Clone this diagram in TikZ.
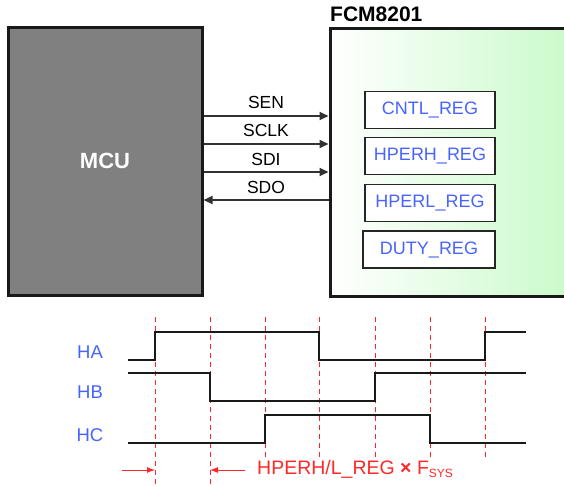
\documentclass[tikz,border=0pt]{standalone}
\usepackage{fontspec}
\setmainfont{Liberation Sans}
\usetikzlibrary{arrows.meta}
\definecolor{regblue}{RGB}{72,100,255}
\definecolor{sigred}{RGB}{255,40,40}
\definecolor{fcmgreen}{RGB}{200,250,200}
\definecolor{mcugray}{RGB}{128,128,128}
\definecolor{wire}{RGB}{50,50,50}
\tikzset{
  regbox/.style={draw=black!85,line width=1.4pt,fill=white,minimum width=130pt,minimum height=37pt,inner sep=0pt,text=regblue,font=\fontsize{18}{18}\selectfont},
  bus/.style={draw=wire,line width=1.8pt,-{Triangle[length=9pt,width=8pt]}},
  buslabel/.style={font=\fontsize{17.5}{17.5}\selectfont,text=black},
  sig/.style={line width=2.4pt,black!90},
  guide/.style={sigred,line width=1pt,dash pattern=on 5pt off 4pt},
  siglabel/.style={text=regblue,font=\fontsize{18.5}{18.5}\selectfont},
  dim/.style={sigred,line width=1pt,-{Latex[length=8pt,width=6pt]}}
}
\begin{document}
\begin{tikzpicture}[x=1pt,y=-1pt]
\clip (0,0) rectangle (564,485);
\fill[white] (0,0) rectangle (564,485);
% MCU
\node[draw=black!90,line width=3pt,fill=mcugray,minimum width=194pt,minimum height=268pt,inner sep=0pt,
      text=white,font=\bfseries\fontsize{22}{22}\selectfont] (MCU) at (105,161) {MCU};
% FCM8201
\node[draw=black!90,line width=3pt,left color=white,right color=fcmgreen,minimum width=250pt,minimum height=268pt,inner sep=0pt] (FCM) at (455,162) {};
\node[font=\bfseries\fontsize{21}{21}\selectfont,anchor=west,inner sep=0pt] (title) at (330,14) {FCM8201};
% registers
\node[regbox] (cntl) at (430,110) {CNTL\_REG};
\node[regbox] (hperh) at (430,156) {HPERH\_REG};
\node[regbox] (hperl) at (430,203) {HPERL\_REG};
\node[regbox,minimum width=132pt] (duty) at (429,249.5) {DUTY\_REG};
% bus
\draw[bus] (MCU.east |- 0,116) -- (FCM.west |- 0,116) node[buslabel,midway,above=3pt] (sen) {SEN};
\draw[bus] (MCU.east |- 0,144) -- (FCM.west |- 0,144) node[buslabel,midway,above=3pt] (sclk) {SCLK};
\draw[bus] (MCU.east |- 0,172) -- (FCM.west |- 0,172) node[buslabel,midway,above=2pt] (sdi) {SDI};
\draw[bus] (FCM.west |- 0,200) -- (MCU.east |- 0,200) node[buslabel,midway,above=2pt] (sdo) {SDO};
% guides
\foreach \x in {265,319,375,430,485} \draw[guide] (\x,317) -- (\x,458);
\foreach \x in {155,210} \draw[guide] (\x,317) -- (\x,485);
% signals
\draw[sig] (128,360) -- (155,360) -- (155,332) -- (319,332) -- (319,360) -- (485,360) -- (485,332) -- (526,332);
\draw[sig] (128,373) -- (210,373) -- (210,401) -- (375,401) -- (375,373) -- (526,373);
\draw[sig] (128,443) -- (265,443) -- (265,415) -- (430,415) -- (430,443) -- (526,443);
\node[siglabel] (ha) at (90,352) {HA};
\node[siglabel] (hb) at (90,392) {HB};
\node[siglabel] (hc) at (90,435) {HC};
% dimension
\coordinate (d1) at (122,470);
\coordinate (d2) at (155,470);
\coordinate (d3) at (210,470);
\draw[dim] (d1) -- (d2);
\node[text=sigred,font=\fontsize{19.5}{19.5}\selectfont,anchor=west,inner sep=0pt] (formula) at (257,469)
  {HPERH/L\_REG \textbf{×} F\raisebox{-3pt}{\fontsize{12}{12}\selectfont SYS}};
\draw[dim] (245,470) -- (d3);
\end{tikzpicture}
\end{document}
